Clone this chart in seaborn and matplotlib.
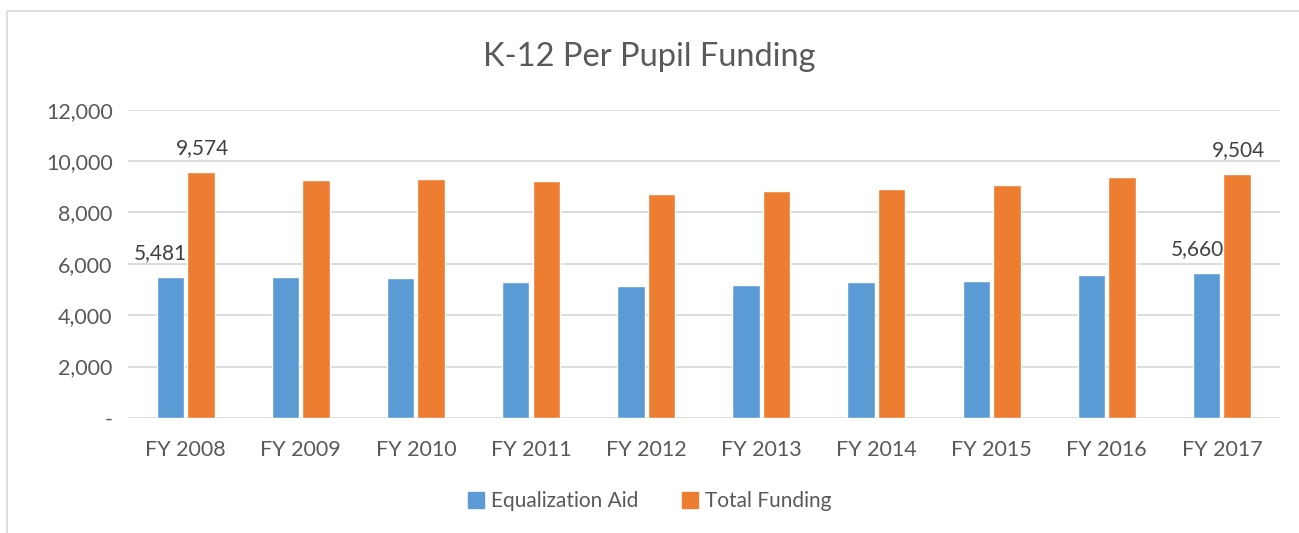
"""
K-12 per pupil funding: equalization aid vs total funding, FY 2008-2017.
"""

import pandas as pd
import matplotlib.pyplot as plt
from matplotlib.patches import Rectangle
from matplotlib.ticker import FuncFormatter
import seaborn as sns

years = ["FY 2008", "FY 2009", "FY 2010", "FY 2011", "FY 2012",
         "FY 2013", "FY 2014", "FY 2015", "FY 2016", "FY 2017"]
equalization_aid = [5481, 5503, 5451, 5294, 5137, 5190, 5294, 5346, 5582, 5660]
total_funding = [9574, 9268, 9320, 9242, 8719, 8850, 8928, 9059, 9399, 9504]
series_names = ["Equalization Aid", "Total Funding"]
colors = ["#5B9BD5", "#ED7D31"]
text_color = "#595959"
grid_color = "#D9D9D9"

df = pd.DataFrame({
    "Year": years * 2,
    "Value": equalization_aid + total_funding,
    "Series": [series_names[0]] * len(years) + [series_names[1]] * len(years),
})

sns.set_theme(style="white")
plt.rcParams["font.family"] = ["Lato", "DejaVu Sans"]

fig = plt.figure(figsize=(12.99, 5.33), dpi=100)
ax = fig.add_axes([0.0985, 0.216, 0.8865, 0.578])

sns.barplot(
    data=df, x="Year", y="Value", hue="Series", palette=colors,
    width=0.53, gap=0.1, ax=ax, legend=True, saturation=1,
)

ax.set_ylim(0, 12000)
ax.set_xlim(-0.5, len(years) - 0.5)
ax.set_yticks(range(0, 12001, 2000))
ax.yaxis.set_major_formatter(FuncFormatter(lambda v, _: f"{v:,.0f}" if v else "-"))
ax.grid(axis="y", color=grid_color, linewidth=1.3)
ax.set_axisbelow(True)
for side in ["left", "right", "top", "bottom"]:
    ax.spines[side].set_visible(False)
ax.tick_params(axis="y", length=0, pad=11, labelsize=15.5, labelcolor=text_color)
ax.tick_params(axis="x", length=0, pad=16, labelsize=15.5, labelcolor=text_color)
ax.set_xlabel("")
ax.set_ylabel("")

# data labels on first and last year only
blue_bars, orange_bars = ax.containers[0], ax.containers[1]
for bars, vals, dx in [(blue_bars, equalization_aid, -7), (orange_bars, total_funding, 1)]:
    for i in (0, len(years) - 1):
        p = bars.patches[i]
        ax.annotate(f"{vals[i]:,}", (p.get_x() + p.get_width() / 2, p.get_height()),
                    xytext=(dx, 10), textcoords="offset points", ha="center", va="bottom",
                    fontsize=15, color="#404040")

ax.legend(
    handles=[plt.Line2D([], [], marker="s", linestyle="", markersize=11,
                        color=c) for c in colors],
    labels=series_names, loc="center", bbox_to_anchor=(0.5, 0.06),
    bbox_transform=fig.transFigure, ncol=2, frameon=False, fontsize=15,
    handlelength=0.8, handletextpad=0.3, columnspacing=2.1, labelcolor=text_color,
)

fig.text(0.5, 0.893, "K-12 Per Pupil Funding", ha="center", va="center",
         fontsize=23.5, color=text_color)

# chart area border
fig.patches.append(Rectangle((7 / 1299, -0.1), 1.2, 1 - 11 / 533 + 0.1,
                             transform=fig.transFigure, fill=False,
                             edgecolor=grid_color, linewidth=1.2))

fig.savefig("out.png", dpi=100, facecolor="white")
